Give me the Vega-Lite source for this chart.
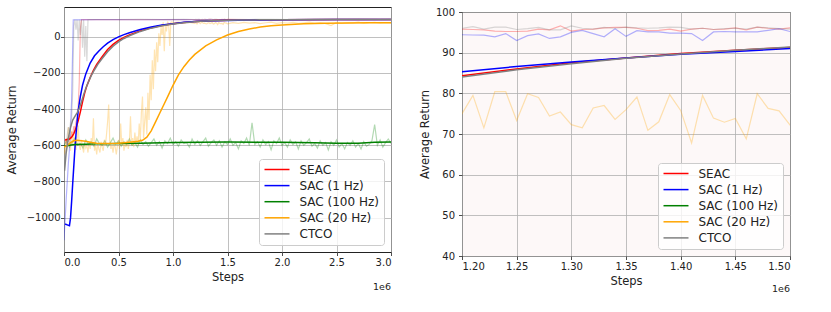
{
 "$schema": "https://vega.github.io/schema/vega-lite/v6.json",
 "background": "white",
 "padding": {"left": 5, "top": 6, "right": 5, "bottom": 5},
 "config": {
  "font": "DejaVu Sans",
  "view": {"stroke": "#222222", "strokeWidth": 1},
  "axis": {"grid": true, "gridColor": "#b0b0b0", "gridWidth": 0.8, "gridOpacity": 1, "domain": false, "tickColor": "#222222", "tickSize": 3.5, "tickWidth": 0.8, "labelFont": "DejaVu Sans", "labelFontSize": 10, "labelColor": "#222222", "titleFont": "DejaVu Sans", "titleFontSize": 11.5, "titleFontWeight": "normal", "titleColor": "#222222", "labelPadding": 1.5},
  "axisX": {"titlePadding": 4},
  "legend": {"title": null, "orient": "bottom-right", "offset": 7, "fillColor": "rgba(255,255,255,0.8)", "strokeColor": "#cccccc", "cornerRadius": 3, "padding": 4.5, "symbolType": "M-1,0H4", "symbolSize": 100, "symbolStrokeWidth": 1.5, "symbolOpacity": 1, "labelFont": "DejaVu Sans", "labelFontSize": 12, "labelColor": "#222222", "labelOffset": 24, "rowPadding": 4.1}
 },
 "datasets": {
  "smooth": [
   {"series":"SEAC","step":0.01,"ret":-570},{"series":"SEAC","step":0.03,"ret":-568},{"series":"SEAC","step":0.05,"ret":-565},{"series":"SEAC","step":0.07,"ret":-555},{"series":"SEAC","step":0.09,"ret":-535},{"series":"SEAC","step":0.11,"ret":-505},{"series":"SEAC","step":0.13,"ret":-465},{"series":"SEAC","step":0.15,"ret":-415},{"series":"SEAC","step":0.17,"ret":-360},{"series":"SEAC","step":0.19,"ret":-310},{"series":"SEAC","step":0.21,"ret":-270},{"series":"SEAC","step":0.24,"ret":-225},{"series":"SEAC","step":0.27,"ret":-185},{"series":"SEAC","step":0.30,"ret":-152},{"series":"SEAC","step":0.35,"ret":-110},{"series":"SEAC","step":0.40,"ret":-70},{"series":"SEAC","step":0.45,"ret":-42},{"series":"SEAC","step":0.50,"ret":-20},{"series":"SEAC","step":0.55,"ret":-3},{"series":"SEAC","step":0.60,"ret":11},{"series":"SEAC","step":0.70,"ret":33},{"series":"SEAC","step":0.80,"ret":50},{"series":"SEAC","step":0.90,"ret":63},{"series":"SEAC","step":1.00,"ret":72},{"series":"SEAC","step":1.10,"ret":79},{"series":"SEAC","step":1.20,"ret":84.3},{"series":"SEAC","step":1.25,"ret":86.0},{"series":"SEAC","step":1.30,"ret":87.5},{"series":"SEAC","step":1.35,"ret":88.7},{"series":"SEAC","step":1.40,"ret":89.8},{"series":"SEAC","step":1.45,"ret":90.6},{"series":"SEAC","step":1.50,"ret":91.3},{"series":"SEAC","step":1.60,"ret":92.4},{"series":"SEAC","step":1.80,"ret":93.8},{"series":"SEAC","step":2.00,"ret":94.6},{"series":"SEAC","step":2.50,"ret":95.4},{"series":"SEAC","step":3.00,"ret":95.7},
   {"series":"SAC (1 Hz)","step":0.01,"ret":-1035},{"series":"SAC (1 Hz)","step":0.03,"ret":-1040},{"series":"SAC (1 Hz)","step":0.05,"ret":-1045},{"series":"SAC (1 Hz)","step":0.06,"ret":-1000},{"series":"SAC (1 Hz)","step":0.07,"ret":-910},{"series":"SAC (1 Hz)","step":0.08,"ret":-810},{"series":"SAC (1 Hz)","step":0.09,"ret":-715},{"series":"SAC (1 Hz)","step":0.10,"ret":-620},{"series":"SAC (1 Hz)","step":0.11,"ret":-540},{"series":"SAC (1 Hz)","step":0.12,"ret":-470},{"series":"SAC (1 Hz)","step":0.13,"ret":-410},{"series":"SAC (1 Hz)","step":0.15,"ret":-330},{"series":"SAC (1 Hz)","step":0.17,"ret":-268},{"series":"SAC (1 Hz)","step":0.20,"ret":-205},{"series":"SAC (1 Hz)","step":0.24,"ret":-145},{"series":"SAC (1 Hz)","step":0.28,"ret":-105},{"series":"SAC (1 Hz)","step":0.32,"ret":-78},{"series":"SAC (1 Hz)","step":0.36,"ret":-55},{"series":"SAC (1 Hz)","step":0.40,"ret":-35},{"series":"SAC (1 Hz)","step":0.45,"ret":-15},{"series":"SAC (1 Hz)","step":0.50,"ret":0},{"series":"SAC (1 Hz)","step":0.55,"ret":12},{"series":"SAC (1 Hz)","step":0.60,"ret":23},{"series":"SAC (1 Hz)","step":0.70,"ret":40},{"series":"SAC (1 Hz)","step":0.80,"ret":54},{"series":"SAC (1 Hz)","step":0.90,"ret":65},{"series":"SAC (1 Hz)","step":1.00,"ret":73},{"series":"SAC (1 Hz)","step":1.10,"ret":80},{"series":"SAC (1 Hz)","step":1.20,"ret":85.3},{"series":"SAC (1 Hz)","step":1.25,"ret":86.6},{"series":"SAC (1 Hz)","step":1.30,"ret":87.7},{"series":"SAC (1 Hz)","step":1.35,"ret":88.7},{"series":"SAC (1 Hz)","step":1.40,"ret":89.6},{"series":"SAC (1 Hz)","step":1.45,"ret":90.3},{"series":"SAC (1 Hz)","step":1.50,"ret":91.0},{"series":"SAC (1 Hz)","step":1.60,"ret":92.1},{"series":"SAC (1 Hz)","step":1.80,"ret":93.6},{"series":"SAC (1 Hz)","step":2.00,"ret":94.5},{"series":"SAC (1 Hz)","step":2.50,"ret":95.3},{"series":"SAC (1 Hz)","step":3.00,"ret":95.6},
   {"series":"SAC (100 Hz)","step":0.00,"ret":-605},{"series":"SAC (100 Hz)","step":0.05,"ret":-600},{"series":"SAC (100 Hz)","step":0.10,"ret":-596},{"series":"SAC (100 Hz)","step":0.20,"ret":-594},{"series":"SAC (100 Hz)","step":0.30,"ret":-592},{"series":"SAC (100 Hz)","step":0.50,"ret":-590},{"series":"SAC (100 Hz)","step":0.70,"ret":-588},{"series":"SAC (100 Hz)","step":1.00,"ret":-585},{"series":"SAC (100 Hz)","step":1.50,"ret":-582},{"series":"SAC (100 Hz)","step":2.00,"ret":-583},{"series":"SAC (100 Hz)","step":2.30,"ret":-586},{"series":"SAC (100 Hz)","step":2.50,"ret":-589},{"series":"SAC (100 Hz)","step":2.70,"ret":-588},{"series":"SAC (100 Hz)","step":2.85,"ret":-583},{"series":"SAC (100 Hz)","step":3.00,"ret":-582},
   {"series":"SAC (20 Hz)","step":0.00,"ret":-610},{"series":"SAC (20 Hz)","step":0.03,"ret":-600},{"series":"SAC (20 Hz)","step":0.06,"ret":-585},{"series":"SAC (20 Hz)","step":0.09,"ret":-575},{"series":"SAC (20 Hz)","step":0.12,"ret":-572},{"series":"SAC (20 Hz)","step":0.16,"ret":-575},{"series":"SAC (20 Hz)","step":0.20,"ret":-578},{"series":"SAC (20 Hz)","step":0.25,"ret":-584},{"series":"SAC (20 Hz)","step":0.30,"ret":-588},{"series":"SAC (20 Hz)","step":0.40,"ret":-590},{"series":"SAC (20 Hz)","step":0.50,"ret":-588},{"series":"SAC (20 Hz)","step":0.60,"ret":-583},{"series":"SAC (20 Hz)","step":0.68,"ret":-578},{"series":"SAC (20 Hz)","step":0.72,"ret":-572},{"series":"SAC (20 Hz)","step":0.76,"ret":-555},{"series":"SAC (20 Hz)","step":0.80,"ret":-520},{"series":"SAC (20 Hz)","step":0.84,"ret":-470},{"series":"SAC (20 Hz)","step":0.88,"ret":-420},{"series":"SAC (20 Hz)","step":0.92,"ret":-370},{"series":"SAC (20 Hz)","step":0.96,"ret":-320},{"series":"SAC (20 Hz)","step":1.00,"ret":-268},{"series":"SAC (20 Hz)","step":1.05,"ret":-210},{"series":"SAC (20 Hz)","step":1.10,"ret":-165},{"series":"SAC (20 Hz)","step":1.15,"ret":-128},{"series":"SAC (20 Hz)","step":1.20,"ret":-97},{"series":"SAC (20 Hz)","step":1.30,"ret":-50},{"series":"SAC (20 Hz)","step":1.40,"ret":-17},{"series":"SAC (20 Hz)","step":1.50,"ret":10},{"series":"SAC (20 Hz)","step":1.60,"ret":29},{"series":"SAC (20 Hz)","step":1.70,"ret":43},{"series":"SAC (20 Hz)","step":1.80,"ret":54},{"series":"SAC (20 Hz)","step":1.90,"ret":61},{"series":"SAC (20 Hz)","step":2.00,"ret":66},{"series":"SAC (20 Hz)","step":2.20,"ret":72},{"series":"SAC (20 Hz)","step":2.40,"ret":75},{"series":"SAC (20 Hz)","step":2.60,"ret":76.5},{"series":"SAC (20 Hz)","step":2.80,"ret":77.5},{"series":"SAC (20 Hz)","step":3.00,"ret":78},
   {"series":"CTCO","step":0.005,"ret":-740},{"series":"CTCO","step":0.02,"ret":-640},{"series":"CTCO","step":0.04,"ret":-560},{"series":"CTCO","step":0.06,"ret":-500},{"series":"CTCO","step":0.08,"ret":-460},{"series":"CTCO","step":0.10,"ret":-440},{"series":"CTCO","step":0.12,"ret":-420},{"series":"CTCO","step":0.14,"ret":-395},{"series":"CTCO","step":0.16,"ret":-360},{"series":"CTCO","step":0.18,"ret":-320},{"series":"CTCO","step":0.20,"ret":-285},{"series":"CTCO","step":0.22,"ret":-255},{"series":"CTCO","step":0.25,"ret":-215},{"series":"CTCO","step":0.28,"ret":-182},{"series":"CTCO","step":0.31,"ret":-152},{"series":"CTCO","step":0.35,"ret":-120},{"series":"CTCO","step":0.40,"ret":-82},{"series":"CTCO","step":0.45,"ret":-52},{"series":"CTCO","step":0.50,"ret":-28},{"series":"CTCO","step":0.55,"ret":-9},{"series":"CTCO","step":0.60,"ret":6},{"series":"CTCO","step":0.70,"ret":30},{"series":"CTCO","step":0.80,"ret":48},{"series":"CTCO","step":0.90,"ret":61},{"series":"CTCO","step":1.00,"ret":71},{"series":"CTCO","step":1.10,"ret":78.5},{"series":"CTCO","step":1.20,"ret":84.0},{"series":"CTCO","step":1.25,"ret":85.8},{"series":"CTCO","step":1.30,"ret":87.3},{"series":"CTCO","step":1.35,"ret":88.6},{"series":"CTCO","step":1.40,"ret":89.7},{"series":"CTCO","step":1.45,"ret":90.6},{"series":"CTCO","step":1.50,"ret":91.4},{"series":"CTCO","step":1.60,"ret":92.6},{"series":"CTCO","step":1.80,"ret":94.0},{"series":"CTCO","step":2.00,"ret":94.8},{"series":"CTCO","step":2.50,"ret":95.6},{"series":"CTCO","step":3.00,"ret":95.9}
  ],
  "raw": [
   {"series":"SEAC","step":0.01,"ret":-570},{"series":"SEAC","step":0.02,"ret":-590},{"series":"SEAC","step":0.03,"ret":-560},{"series":"SEAC","step":0.04,"ret":-580},{"series":"SEAC","step":0.05,"ret":-545},{"series":"SEAC","step":0.06,"ret":-565},{"series":"SEAC","step":0.07,"ret":-525},{"series":"SEAC","step":0.08,"ret":-545},{"series":"SEAC","step":0.09,"ret":-495},{"series":"SEAC","step":0.10,"ret":-510},{"series":"SEAC","step":0.11,"ret":-470},{"series":"SEAC","step":0.12,"ret":-450},{"series":"SEAC","step":0.13,"ret":-390},{"series":"SEAC","step":0.14,"ret":-250},{"series":"SEAC","step":0.15,"ret":40},{"series":"SEAC","step":0.16,"ret":95.5},{"series":"SEAC","step":0.3,"ret":95.6},{"series":"SEAC","step":0.5,"ret":95.4},{"series":"SEAC","step":0.7,"ret":95.7},{"series":"SEAC","step":0.9,"ret":95.5},{"series":"SEAC","step":1.1,"ret":95.6},
   {"series":"SEAC","step":1.20,"ret":95.8},{"series":"SEAC","step":1.21,"ret":95.7},{"series":"SEAC","step":1.22,"ret":95.6},{"series":"SEAC","step":1.23,"ret":95.3},{"series":"SEAC","step":1.24,"ret":95.2},{"series":"SEAC","step":1.25,"ret":95.2},{"series":"SEAC","step":1.26,"ret":95.3},{"series":"SEAC","step":1.27,"ret":95.8},{"series":"SEAC","step":1.28,"ret":95.6},{"series":"SEAC","step":1.29,"ret":96.6},{"series":"SEAC","step":1.30,"ret":95.3},{"series":"SEAC","step":1.31,"ret":95.7},{"series":"SEAC","step":1.32,"ret":95.8},{"series":"SEAC","step":1.33,"ret":96.1},{"series":"SEAC","step":1.34,"ret":96.2},{"series":"SEAC","step":1.35,"ret":96.2},{"series":"SEAC","step":1.36,"ret":96.0},{"series":"SEAC","step":1.37,"ret":95.4},{"series":"SEAC","step":1.38,"ret":95.5},{"series":"SEAC","step":1.39,"ret":95.8},{"series":"SEAC","step":1.40,"ret":95.3},{"series":"SEAC","step":1.41,"ret":95.8},{"series":"SEAC","step":1.42,"ret":96.0},{"series":"SEAC","step":1.43,"ret":95.7},{"series":"SEAC","step":1.44,"ret":95.8},{"series":"SEAC","step":1.45,"ret":96.1},{"series":"SEAC","step":1.46,"ret":95.6},{"series":"SEAC","step":1.47,"ret":96.3},{"series":"SEAC","step":1.48,"ret":96.0},{"series":"SEAC","step":1.49,"ret":95.8},{"series":"SEAC","step":1.50,"ret":96.1},
   {"series":"SEAC","step":1.7,"ret":95.8},{"series":"SEAC","step":1.9,"ret":95.6},{"series":"SEAC","step":2.1,"ret":95.9},{"series":"SEAC","step":2.3,"ret":95.7},{"series":"SEAC","step":2.5,"ret":95.8},{"series":"SEAC","step":2.7,"ret":95.6},{"series":"SEAC","step":2.9,"ret":95.9},{"series":"SEAC","step":3.0,"ret":95.7},
   {"series":"SAC (1 Hz)","step":0.00,"ret":-1125},{"series":"SAC (1 Hz)","step":0.02,"ret":-900},{"series":"SAC (1 Hz)","step":0.04,"ret":-700},{"series":"SAC (1 Hz)","step":0.055,"ret":-580},{"series":"SAC (1 Hz)","step":0.07,"ret":-350},{"series":"SAC (1 Hz)","step":0.085,"ret":94},{"series":"SAC (1 Hz)","step":0.3,"ret":94.8},{"series":"SAC (1 Hz)","step":0.5,"ret":95.1},{"series":"SAC (1 Hz)","step":0.7,"ret":94.6},{"series":"SAC (1 Hz)","step":0.9,"ret":95.0},{"series":"SAC (1 Hz)","step":1.1,"ret":94.7},
   {"series":"SAC (1 Hz)","step":1.20,"ret":94.4},{"series":"SAC (1 Hz)","step":1.21,"ret":94.35},{"series":"SAC (1 Hz)","step":1.22,"ret":94.3},{"series":"SAC (1 Hz)","step":1.23,"ret":93.9},{"series":"SAC (1 Hz)","step":1.24,"ret":94.7},{"series":"SAC (1 Hz)","step":1.25,"ret":93.0},{"series":"SAC (1 Hz)","step":1.26,"ret":94.2},{"series":"SAC (1 Hz)","step":1.27,"ret":94.6},{"series":"SAC (1 Hz)","step":1.28,"ret":93.5},{"series":"SAC (1 Hz)","step":1.29,"ret":93.9},{"series":"SAC (1 Hz)","step":1.30,"ret":95.0},{"series":"SAC (1 Hz)","step":1.31,"ret":95.5},{"series":"SAC (1 Hz)","step":1.32,"ret":94.7},{"series":"SAC (1 Hz)","step":1.33,"ret":93.9},{"series":"SAC (1 Hz)","step":1.34,"ret":95.9},{"series":"SAC (1 Hz)","step":1.35,"ret":94.0},{"series":"SAC (1 Hz)","step":1.36,"ret":95.4},{"series":"SAC (1 Hz)","step":1.37,"ret":95.1},{"series":"SAC (1 Hz)","step":1.38,"ret":95.1},{"series":"SAC (1 Hz)","step":1.39,"ret":94.8},{"series":"SAC (1 Hz)","step":1.40,"ret":94.8},{"series":"SAC (1 Hz)","step":1.41,"ret":94.7},{"series":"SAC (1 Hz)","step":1.42,"ret":93.0},{"series":"SAC (1 Hz)","step":1.43,"ret":95.1},{"series":"SAC (1 Hz)","step":1.44,"ret":95.2},{"series":"SAC (1 Hz)","step":1.45,"ret":95.1},{"series":"SAC (1 Hz)","step":1.46,"ret":95.1},{"series":"SAC (1 Hz)","step":1.47,"ret":95.1},{"series":"SAC (1 Hz)","step":1.48,"ret":95.5},{"series":"SAC (1 Hz)","step":1.49,"ret":95.9},{"series":"SAC (1 Hz)","step":1.50,"ret":95.2},
   {"series":"SAC (1 Hz)","step":1.7,"ret":95.3},{"series":"SAC (1 Hz)","step":1.9,"ret":95.6},{"series":"SAC (1 Hz)","step":2.1,"ret":95.4},{"series":"SAC (1 Hz)","step":2.3,"ret":95.8},{"series":"SAC (1 Hz)","step":2.5,"ret":95.5},{"series":"SAC (1 Hz)","step":2.7,"ret":95.7},{"series":"SAC (1 Hz)","step":2.9,"ret":95.6},{"series":"SAC (1 Hz)","step":3.0,"ret":95.8},
   {"series":"SAC (100 Hz)","step":0.000,"ret":-600},{"series":"SAC (100 Hz)","step":0.025,"ret":-575},{"series":"SAC (100 Hz)","step":0.050,"ret":-610},{"series":"SAC (100 Hz)","step":0.075,"ret":-585},{"series":"SAC (100 Hz)","step":0.100,"ret":-560},{"series":"SAC (100 Hz)","step":0.125,"ret":-600},{"series":"SAC (100 Hz)","step":0.150,"ret":-590},{"series":"SAC (100 Hz)","step":0.175,"ret":-615},{"series":"SAC (100 Hz)","step":0.200,"ret":-570},{"series":"SAC (100 Hz)","step":0.225,"ret":-595},{"series":"SAC (100 Hz)","step":0.250,"ret":-580},{"series":"SAC (100 Hz)","step":0.275,"ret":-605},{"series":"SAC (100 Hz)","step":0.300,"ret":-565},{"series":"SAC (100 Hz)","step":0.325,"ret":-590},{"series":"SAC (100 Hz)","step":0.350,"ret":-600},{"series":"SAC (100 Hz)","step":0.375,"ret":-575},{"series":"SAC (100 Hz)","step":0.400,"ret":-610},{"series":"SAC (100 Hz)","step":0.425,"ret":-585},{"series":"SAC (100 Hz)","step":0.450,"ret":-560},{"series":"SAC (100 Hz)","step":0.475,"ret":-595},{"series":"SAC (100 Hz)","step":0.500,"ret":-575},{"series":"SAC (100 Hz)","step":0.525,"ret":-605},{"series":"SAC (100 Hz)","step":0.550,"ret":-580},{"series":"SAC (100 Hz)","step":0.575,"ret":-595},{"series":"SAC (100 Hz)","step":0.600,"ret":-565},{"series":"SAC (100 Hz)","step":0.625,"ret":-600},{"series":"SAC (100 Hz)","step":0.650,"ret":-585},{"series":"SAC (100 Hz)","step":0.675,"ret":-610},{"series":"SAC (100 Hz)","step":0.700,"ret":-570},{"series":"SAC (100 Hz)","step":0.725,"ret":-595},{"series":"SAC (100 Hz)","step":0.750,"ret":-580},{"series":"SAC (100 Hz)","step":0.775,"ret":-605},{"series":"SAC (100 Hz)","step":0.800,"ret":-585},{"series":"SAC (100 Hz)","step":0.825,"ret":-565},{"series":"SAC (100 Hz)","step":0.850,"ret":-600},{"series":"SAC (100 Hz)","step":0.875,"ret":-580},{"series":"SAC (100 Hz)","step":0.900,"ret":-615},{"series":"SAC (100 Hz)","step":0.925,"ret":-575},{"series":"SAC (100 Hz)","step":0.950,"ret":-590},{"series":"SAC (100 Hz)","step":0.975,"ret":-560},{"series":"SAC (100 Hz)","step":1.000,"ret":-595},{"series":"SAC (100 Hz)","step":1.025,"ret":-580},{"series":"SAC (100 Hz)","step":1.050,"ret":-605},{"series":"SAC (100 Hz)","step":1.075,"ret":-570},{"series":"SAC (100 Hz)","step":1.100,"ret":-590},{"series":"SAC (100 Hz)","step":1.125,"ret":-585},{"series":"SAC (100 Hz)","step":1.150,"ret":-610},{"series":"SAC (100 Hz)","step":1.175,"ret":-565},{"series":"SAC (100 Hz)","step":1.200,"ret":-595},{"series":"SAC (100 Hz)","step":1.225,"ret":-575},{"series":"SAC (100 Hz)","step":1.250,"ret":-600},{"series":"SAC (100 Hz)","step":1.275,"ret":-580},{"series":"SAC (100 Hz)","step":1.300,"ret":-560},{"series":"SAC (100 Hz)","step":1.325,"ret":-605},{"series":"SAC (100 Hz)","step":1.350,"ret":-585},{"series":"SAC (100 Hz)","step":1.375,"ret":-570},{"series":"SAC (100 Hz)","step":1.400,"ret":-600},{"series":"SAC (100 Hz)","step":1.425,"ret":-575},{"series":"SAC (100 Hz)","step":1.450,"ret":-610},{"series":"SAC (100 Hz)","step":1.475,"ret":-580},{"series":"SAC (100 Hz)","step":1.500,"ret":-595},{"series":"SAC (100 Hz)","step":1.525,"ret":-565},{"series":"SAC (100 Hz)","step":1.550,"ret":-600},{"series":"SAC (100 Hz)","step":1.575,"ret":-585},{"series":"SAC (100 Hz)","step":1.600,"ret":-620},{"series":"SAC (100 Hz)","step":1.625,"ret":-575},{"series":"SAC (100 Hz)","step":1.650,"ret":-590},{"series":"SAC (100 Hz)","step":1.675,"ret":-560},{"series":"SAC (100 Hz)","step":1.700,"ret":-600},{"series":"SAC (100 Hz)","step":1.725,"ret":-475},{"series":"SAC (100 Hz)","step":1.750,"ret":-595},{"series":"SAC (100 Hz)","step":1.775,"ret":-580},{"series":"SAC (100 Hz)","step":1.800,"ret":-610},{"series":"SAC (100 Hz)","step":1.825,"ret":-570},{"series":"SAC (100 Hz)","step":1.850,"ret":-595},{"series":"SAC (100 Hz)","step":1.875,"ret":-580},{"series":"SAC (100 Hz)","step":1.900,"ret":-625},{"series":"SAC (100 Hz)","step":1.925,"ret":-575},{"series":"SAC (100 Hz)","step":1.950,"ret":-590},{"series":"SAC (100 Hz)","step":1.975,"ret":-560},{"series":"SAC (100 Hz)","step":2.000,"ret":-600},{"series":"SAC (100 Hz)","step":2.025,"ret":-585},{"series":"SAC (100 Hz)","step":2.050,"ret":-610},{"series":"SAC (100 Hz)","step":2.075,"ret":-570},{"series":"SAC (100 Hz)","step":2.100,"ret":-595},{"series":"SAC (100 Hz)","step":2.125,"ret":-580},{"series":"SAC (100 Hz)","step":2.150,"ret":-620},{"series":"SAC (100 Hz)","step":2.175,"ret":-575},{"series":"SAC (100 Hz)","step":2.200,"ret":-600},{"series":"SAC (100 Hz)","step":2.225,"ret":-585},{"series":"SAC (100 Hz)","step":2.250,"ret":-565},{"series":"SAC (100 Hz)","step":2.275,"ret":-605},{"series":"SAC (100 Hz)","step":2.300,"ret":-590},{"series":"SAC (100 Hz)","step":2.325,"ret":-615},{"series":"SAC (100 Hz)","step":2.350,"ret":-575},{"series":"SAC (100 Hz)","step":2.375,"ret":-600},{"series":"SAC (100 Hz)","step":2.400,"ret":-585},{"series":"SAC (100 Hz)","step":2.425,"ret":-625},{"series":"SAC (100 Hz)","step":2.450,"ret":-580},{"series":"SAC (100 Hz)","step":2.475,"ret":-600},{"series":"SAC (100 Hz)","step":2.500,"ret":-570},{"series":"SAC (100 Hz)","step":2.525,"ret":-610},{"series":"SAC (100 Hz)","step":2.550,"ret":-590},{"series":"SAC (100 Hz)","step":2.575,"ret":-620},{"series":"SAC (100 Hz)","step":2.600,"ret":-585},{"series":"SAC (100 Hz)","step":2.625,"ret":-600},{"series":"SAC (100 Hz)","step":2.650,"ret":-575},{"series":"SAC (100 Hz)","step":2.675,"ret":-610},{"series":"SAC (100 Hz)","step":2.700,"ret":-590},{"series":"SAC (100 Hz)","step":2.725,"ret":-620},{"series":"SAC (100 Hz)","step":2.750,"ret":-580},{"series":"SAC (100 Hz)","step":2.775,"ret":-605},{"series":"SAC (100 Hz)","step":2.800,"ret":-595},{"series":"SAC (100 Hz)","step":2.825,"ret":-575},{"series":"SAC (100 Hz)","step":2.850,"ret":-485},{"series":"SAC (100 Hz)","step":2.875,"ret":-600},{"series":"SAC (100 Hz)","step":2.900,"ret":-570},{"series":"SAC (100 Hz)","step":2.925,"ret":-610},{"series":"SAC (100 Hz)","step":2.950,"ret":-585},{"series":"SAC (100 Hz)","step":2.975,"ret":-565},{"series":"SAC (100 Hz)","step":3.000,"ret":-590},
   {"series":"SAC (20 Hz)","step":0.00,"ret":-620},{"series":"SAC (20 Hz)","step":0.01,"ret":-650},{"series":"SAC (20 Hz)","step":0.02,"ret":-560},{"series":"SAC (20 Hz)","step":0.03,"ret":-610},{"series":"SAC (20 Hz)","step":0.04,"ret":-500},{"series":"SAC (20 Hz)","step":0.05,"ret":-580},{"series":"SAC (20 Hz)","step":0.06,"ret":-630},{"series":"SAC (20 Hz)","step":0.07,"ret":-520},{"series":"SAC (20 Hz)","step":0.08,"ret":-600},{"series":"SAC (20 Hz)","step":0.09,"ret":-545},{"series":"SAC (20 Hz)","step":0.10,"ret":-610},{"series":"SAC (20 Hz)","step":0.11,"ret":-625},{"series":"SAC (20 Hz)","step":0.12,"ret":-560},{"series":"SAC (20 Hz)","step":0.13,"ret":-490},{"series":"SAC (20 Hz)","step":0.14,"ret":-600},{"series":"SAC (20 Hz)","step":0.15,"ret":-625},{"series":"SAC (20 Hz)","step":0.16,"ret":-570},{"series":"SAC (20 Hz)","step":0.17,"ret":-610},{"series":"SAC (20 Hz)","step":0.18,"ret":-640},{"series":"SAC (20 Hz)","step":0.19,"ret":-585},{"series":"SAC (20 Hz)","step":0.20,"ret":-615},{"series":"SAC (20 Hz)","step":0.21,"ret":-600},{"series":"SAC (20 Hz)","step":0.22,"ret":-640},{"series":"SAC (20 Hz)","step":0.23,"ret":-580},{"series":"SAC (20 Hz)","step":0.24,"ret":-620},{"series":"SAC (20 Hz)","step":0.25,"ret":-560},{"series":"SAC (20 Hz)","step":0.26,"ret":-600},{"series":"SAC (20 Hz)","step":0.27,"ret":-450},{"series":"SAC (20 Hz)","step":0.28,"ret":-630},{"series":"SAC (20 Hz)","step":0.29,"ret":-600},{"series":"SAC (20 Hz)","step":0.30,"ret":-650},{"series":"SAC (20 Hz)","step":0.31,"ret":-590},{"series":"SAC (20 Hz)","step":0.32,"ret":-620},{"series":"SAC (20 Hz)","step":0.33,"ret":-640},{"series":"SAC (20 Hz)","step":0.34,"ret":-580},{"series":"SAC (20 Hz)","step":0.35,"ret":-610},{"series":"SAC (20 Hz)","step":0.36,"ret":-630},{"series":"SAC (20 Hz)","step":0.37,"ret":-570},{"series":"SAC (20 Hz)","step":0.38,"ret":-600},{"series":"SAC (20 Hz)","step":0.39,"ret":-540},{"series":"SAC (20 Hz)","step":0.40,"ret":-470},{"series":"SAC (20 Hz)","step":0.41,"ret":-375},{"series":"SAC (20 Hz)","step":0.42,"ret":-580},{"series":"SAC (20 Hz)","step":0.43,"ret":-620},{"series":"SAC (20 Hz)","step":0.44,"ret":-600},{"series":"SAC (20 Hz)","step":0.45,"ret":-640},{"series":"SAC (20 Hz)","step":0.46,"ret":-590},{"series":"SAC (20 Hz)","step":0.47,"ret":-610},{"series":"SAC (20 Hz)","step":0.48,"ret":-650},{"series":"SAC (20 Hz)","step":0.49,"ret":-600},{"series":"SAC (20 Hz)","step":0.50,"ret":-570},{"series":"SAC (20 Hz)","step":0.51,"ret":-620},{"series":"SAC (20 Hz)","step":0.52,"ret":-480},{"series":"SAC (20 Hz)","step":0.53,"ret":-600},{"series":"SAC (20 Hz)","step":0.54,"ret":-560},{"series":"SAC (20 Hz)","step":0.55,"ret":-630},{"series":"SAC (20 Hz)","step":0.56,"ret":-590},{"series":"SAC (20 Hz)","step":0.57,"ret":-610},{"series":"SAC (20 Hz)","step":0.58,"ret":-570},{"series":"SAC (20 Hz)","step":0.59,"ret":-620},{"series":"SAC (20 Hz)","step":0.60,"ret":-580},{"series":"SAC (20 Hz)","step":0.61,"ret":-440},{"series":"SAC (20 Hz)","step":0.62,"ret":-600},{"series":"SAC (20 Hz)","step":0.63,"ret":-560},{"series":"SAC (20 Hz)","step":0.64,"ret":-610},{"series":"SAC (20 Hz)","step":0.65,"ret":-530},{"series":"SAC (20 Hz)","step":0.66,"ret":-590},{"series":"SAC (20 Hz)","step":0.67,"ret":-550},{"series":"SAC (20 Hz)","step":0.68,"ret":-600},{"series":"SAC (20 Hz)","step":0.69,"ret":-480},{"series":"SAC (20 Hz)","step":0.70,"ret":-570},{"series":"SAC (20 Hz)","step":0.71,"ret":-420},{"series":"SAC (20 Hz)","step":0.72,"ret":-330},{"series":"SAC (20 Hz)","step":0.73,"ret":-560},{"series":"SAC (20 Hz)","step":0.74,"ret":-470},{"series":"SAC (20 Hz)","step":0.75,"ret":-390},{"series":"SAC (20 Hz)","step":0.76,"ret":-540},{"series":"SAC (20 Hz)","step":0.77,"ret":-310},{"series":"SAC (20 Hz)","step":0.78,"ret":-460},{"series":"SAC (20 Hz)","step":0.79,"ret":-210},{"series":"SAC (20 Hz)","step":0.80,"ret":-350},{"series":"SAC (20 Hz)","step":0.81,"ret":-130},{"series":"SAC (20 Hz)","step":0.82,"ret":-290},{"series":"SAC (20 Hz)","step":0.83,"ret":-70},{"series":"SAC (20 Hz)","step":0.84,"ret":-190},{"series":"SAC (20 Hz)","step":0.85,"ret":-30},{"series":"SAC (20 Hz)","step":0.86,"ret":-140},{"series":"SAC (20 Hz)","step":0.87,"ret":20},{"series":"SAC (20 Hz)","step":0.88,"ret":-50},{"series":"SAC (20 Hz)","step":0.89,"ret":55},{"series":"SAC (20 Hz)","step":0.90,"ret":10},{"series":"SAC (20 Hz)","step":0.91,"ret":80},{"series":"SAC (20 Hz)","step":0.92,"ret":-80},{"series":"SAC (20 Hz)","step":0.93,"ret":65},{"series":"SAC (20 Hz)","step":0.94,"ret":30},{"series":"SAC (20 Hz)","step":0.95,"ret":85},{"series":"SAC (20 Hz)","step":0.96,"ret":70},{"series":"SAC (20 Hz)","step":0.97,"ret":-50},{"series":"SAC (20 Hz)","step":0.98,"ret":80},{"series":"SAC (20 Hz)","step":0.99,"ret":83},{"series":"SAC (20 Hz)","step":1.00,"ret":78},{"series":"SAC (20 Hz)","step":1.05,"ret":81},{"series":"SAC (20 Hz)","step":1.10,"ret":77},{"series":"SAC (20 Hz)","step":1.15,"ret":80},
   {"series":"SAC (20 Hz)","step":1.20,"ret":75.0},{"series":"SAC (20 Hz)","step":1.21,"ret":79.5},{"series":"SAC (20 Hz)","step":1.22,"ret":71.5},{"series":"SAC (20 Hz)","step":1.23,"ret":80.4},{"series":"SAC (20 Hz)","step":1.24,"ret":80.4},{"series":"SAC (20 Hz)","step":1.25,"ret":73.3},{"series":"SAC (20 Hz)","step":1.26,"ret":79.9},{"series":"SAC (20 Hz)","step":1.27,"ret":79.0},{"series":"SAC (20 Hz)","step":1.28,"ret":74.4},{"series":"SAC (20 Hz)","step":1.29,"ret":75.4},{"series":"SAC (20 Hz)","step":1.30,"ret":72.3},{"series":"SAC (20 Hz)","step":1.31,"ret":71.5},{"series":"SAC (20 Hz)","step":1.32,"ret":76.4},{"series":"SAC (20 Hz)","step":1.33,"ret":77.0},{"series":"SAC (20 Hz)","step":1.34,"ret":73.6},{"series":"SAC (20 Hz)","step":1.35,"ret":76.0},{"series":"SAC (20 Hz)","step":1.36,"ret":79.1},{"series":"SAC (20 Hz)","step":1.37,"ret":70.9},{"series":"SAC (20 Hz)","step":1.38,"ret":73.0},{"series":"SAC (20 Hz)","step":1.39,"ret":79.7},{"series":"SAC (20 Hz)","step":1.40,"ret":75.8},{"series":"SAC (20 Hz)","step":1.41,"ret":67.8},{"series":"SAC (20 Hz)","step":1.42,"ret":79.5},{"series":"SAC (20 Hz)","step":1.43,"ret":73.9},{"series":"SAC (20 Hz)","step":1.44,"ret":72.9},{"series":"SAC (20 Hz)","step":1.45,"ret":73.8},{"series":"SAC (20 Hz)","step":1.46,"ret":68.8},{"series":"SAC (20 Hz)","step":1.47,"ret":79.9},{"series":"SAC (20 Hz)","step":1.48,"ret":76.3},{"series":"SAC (20 Hz)","step":1.49,"ret":75.7},{"series":"SAC (20 Hz)","step":1.50,"ret":72.2},
   {"series":"SAC (20 Hz)","step":1.55,"ret":78},{"series":"SAC (20 Hz)","step":1.60,"ret":74},{"series":"SAC (20 Hz)","step":1.65,"ret":80},{"series":"SAC (20 Hz)","step":1.70,"ret":76},{"series":"SAC (20 Hz)","step":1.75,"ret":79},{"series":"SAC (20 Hz)","step":1.80,"ret":73},{"series":"SAC (20 Hz)","step":1.85,"ret":78},{"series":"SAC (20 Hz)","step":1.90,"ret":81},{"series":"SAC (20 Hz)","step":1.95,"ret":75},{"series":"SAC (20 Hz)","step":2.00,"ret":79},{"series":"SAC (20 Hz)","step":2.05,"ret":76},{"series":"SAC (20 Hz)","step":2.10,"ret":80},{"series":"SAC (20 Hz)","step":2.15,"ret":74},{"series":"SAC (20 Hz)","step":2.20,"ret":78},{"series":"SAC (20 Hz)","step":2.25,"ret":81},{"series":"SAC (20 Hz)","step":2.30,"ret":76},{"series":"SAC (20 Hz)","step":2.35,"ret":79},{"series":"SAC (20 Hz)","step":2.40,"ret":73},{"series":"SAC (20 Hz)","step":2.45,"ret":62},{"series":"SAC (20 Hz)","step":2.50,"ret":80},{"series":"SAC (20 Hz)","step":2.55,"ret":75},{"series":"SAC (20 Hz)","step":2.60,"ret":79},{"series":"SAC (20 Hz)","step":2.65,"ret":77},{"series":"SAC (20 Hz)","step":2.70,"ret":81},{"series":"SAC (20 Hz)","step":2.75,"ret":74},{"series":"SAC (20 Hz)","step":2.80,"ret":78},{"series":"SAC (20 Hz)","step":2.85,"ret":80},{"series":"SAC (20 Hz)","step":2.90,"ret":76},{"series":"SAC (20 Hz)","step":2.95,"ret":79},{"series":"SAC (20 Hz)","step":3.00,"ret":77},
   {"series":"CTCO","step":0.00,"ret":-745},{"series":"CTCO","step":0.01,"ret":-690},{"series":"CTCO","step":0.02,"ret":-610},{"series":"CTCO","step":0.03,"ret":-540},{"series":"CTCO","step":0.04,"ret":-500},{"series":"CTCO","step":0.05,"ret":-530},{"series":"CTCO","step":0.06,"ret":-470},{"series":"CTCO","step":0.07,"ret":-450},{"series":"CTCO","step":0.08,"ret":-300},{"series":"CTCO","step":0.09,"ret":60},{"series":"CTCO","step":0.10,"ret":95},{"series":"CTCO","step":0.11,"ret":40},{"series":"CTCO","step":0.12,"ret":95},{"series":"CTCO","step":0.13,"ret":-20},{"series":"CTCO","step":0.14,"ret":95},{"series":"CTCO","step":0.15,"ret":10},{"series":"CTCO","step":0.16,"ret":95},{"series":"CTCO","step":0.17,"ret":-60},{"series":"CTCO","step":0.18,"ret":95},{"series":"CTCO","step":0.19,"ret":-110},{"series":"CTCO","step":0.20,"ret":60},{"series":"CTCO","step":0.21,"ret":-135},{"series":"CTCO","step":0.22,"ret":95},{"series":"CTCO","step":0.23,"ret":95.8},{"series":"CTCO","step":0.3,"ret":96.0},{"series":"CTCO","step":0.5,"ret":95.9},{"series":"CTCO","step":0.7,"ret":96.1},{"series":"CTCO","step":0.9,"ret":96.0},{"series":"CTCO","step":1.1,"ret":96.2},
   {"series":"CTCO","step":1.20,"ret":96.0},{"series":"CTCO","step":1.21,"ret":96.4},{"series":"CTCO","step":1.22,"ret":95.8},{"series":"CTCO","step":1.23,"ret":96.3},{"series":"CTCO","step":1.24,"ret":96.3},{"series":"CTCO","step":1.25,"ret":95.7},{"series":"CTCO","step":1.26,"ret":95.9},{"series":"CTCO","step":1.27,"ret":96.2},{"series":"CTCO","step":1.28,"ret":95.6},{"series":"CTCO","step":1.29,"ret":95.6},{"series":"CTCO","step":1.30,"ret":96.6},{"series":"CTCO","step":1.31,"ret":96.0},{"series":"CTCO","step":1.32,"ret":95.8},{"series":"CTCO","step":1.33,"ret":96.2},{"series":"CTCO","step":1.34,"ret":96.0},{"series":"CTCO","step":1.35,"ret":96.3},{"series":"CTCO","step":1.36,"ret":96.1},{"series":"CTCO","step":1.37,"ret":96.0},{"series":"CTCO","step":1.38,"ret":96.1},{"series":"CTCO","step":1.39,"ret":96.3},{"series":"CTCO","step":1.40,"ret":96.2},{"series":"CTCO","step":1.41,"ret":95.8},{"series":"CTCO","step":1.42,"ret":96.0},{"series":"CTCO","step":1.43,"ret":95.7},{"series":"CTCO","step":1.44,"ret":95.9},{"series":"CTCO","step":1.45,"ret":96.0},{"series":"CTCO","step":1.46,"ret":95.8},{"series":"CTCO","step":1.47,"ret":96.3},{"series":"CTCO","step":1.48,"ret":96.1},{"series":"CTCO","step":1.49,"ret":95.9},{"series":"CTCO","step":1.50,"ret":95.8},
   {"series":"CTCO","step":1.7,"ret":96.0},{"series":"CTCO","step":1.9,"ret":96.2},{"series":"CTCO","step":2.1,"ret":95.9},{"series":"CTCO","step":2.3,"ret":96.1},{"series":"CTCO","step":2.5,"ret":96.0},{"series":"CTCO","step":2.7,"ret":96.2},{"series":"CTCO","step":2.9,"ret":95.9},{"series":"CTCO","step":3.0,"ret":96.1}
  ]
 },
 "spacing": 26,
 "hconcat": [
  {
   "width": 327,
   "height": 245,
   "layer": [
    {
     "data": {"name": "raw"},
     "mark": {"type": "line", "strokeWidth": 1.2, "opacity": 0.3, "clip": true},
     "encoding": {
      "x": {"field": "step", "type": "quantitative", "scale": {"domain": [0, 3], "nice": false, "zero": false}, "axis": {"values": [0, 0.5, 1, 1.5, 2, 2.5, 3], "format": ".1f", "title": "Steps"}},
      "y": {"field": "ret", "type": "quantitative", "scale": {"domain": [-1190, 165], "nice": false, "zero": false}, "axis": {"values": [-1000, -800, -600, -400, -200, 0], "format": "d", "title": "Average Return", "titlePadding": 9, "labelPadding": 0.5}},
      "color": {"field": "series", "type": "nominal", "scale": {"domain": ["SEAC", "SAC (1 Hz)", "SAC (100 Hz)", "SAC (20 Hz)", "CTCO"], "range": ["#ff0000", "#0000ff", "#008000", "#ffa500", "#808080"]}}
     }
    },
    {
     "data": {"name": "smooth"},
     "mark": {"type": "line", "strokeWidth": 1.5, "clip": true},
     "encoding": {
      "x": {"field": "step", "type": "quantitative"},
      "y": {"field": "ret", "type": "quantitative"},
      "color": {"field": "series", "type": "nominal"}
     }
    },
    {
     "data": {"values": [{"t": "1e6"}]},
     "mark": {"type": "text", "align": "right", "baseline": "middle", "dy": 35, "fontSize": 9.5, "color": "#222222"},
     "encoding": {"x": {"datum": 3}, "y": {"datum": -1190}, "text": {"field": "t"}}
    }
   ]
  },
  {
   "spacing": -2,
   "vconcat": [
    {
     "width": 10,
     "height": 1,
     "view": {"stroke": null, "fill": "#ffffff"},
     "data": {"values": []},
     "mark": {"type": "rule"},
     "encoding": {}
    },
    {
     "width": 328,
     "height": 244,
     "view": {"fill": "#fdf8f8"},
     "layer": [
      {
       "data": {"name": "raw"},
       "mark": {"type": "line", "strokeWidth": 1.2, "opacity": 0.3, "clip": true},
       "encoding": {
        "x": {"field": "step", "type": "quantitative", "scale": {"domain": [1.2, 1.5], "nice": false, "zero": false}, "axis": {"values": [1.2, 1.25, 1.3, 1.35, 1.4, 1.45, 1.5], "format": ".2f", "title": "Steps"}},
        "y": {"field": "ret", "type": "quantitative", "scale": {"domain": [40, 100], "nice": false, "zero": false}, "axis": {"values": [40, 50, 60, 70, 80, 90, 100], "title": "Average Return", "titlePadding": 5, "labelPadding": 4}},
        "color": {"field": "series", "type": "nominal", "scale": {"domain": ["SEAC", "SAC (1 Hz)", "SAC (100 Hz)", "SAC (20 Hz)", "CTCO"], "range": ["#ff0000", "#0000ff", "#008000", "#ffa500", "#808080"]}}
       }
      },
      {
       "data": {"name": "smooth"},
       "mark": {"type": "line", "strokeWidth": 1.5, "clip": true},
       "encoding": {
        "x": {"field": "step", "type": "quantitative"},
        "y": {"field": "ret", "type": "quantitative"},
        "color": {"field": "series", "type": "nominal"}
       }
      },
      {
       "data": {"values": [{"t": "1e6"}]},
       "mark": {"type": "text", "align": "right", "baseline": "middle", "dy": 33, "fontSize": 9.5, "color": "#222222"},
       "encoding": {"x": {"datum": 1.5}, "y": {"datum": 40}, "text": {"field": "t"}}
      }
     ]
    }
   ],
   "resolve": {"scale": {"x": "independent", "y": "independent", "color": "independent"}, "legend": {"color": "independent"}}
  }
 ],
 "resolve": {"scale": {"x": "independent", "y": "independent", "color": "independent"}, "legend": {"color": "independent"}}
}
